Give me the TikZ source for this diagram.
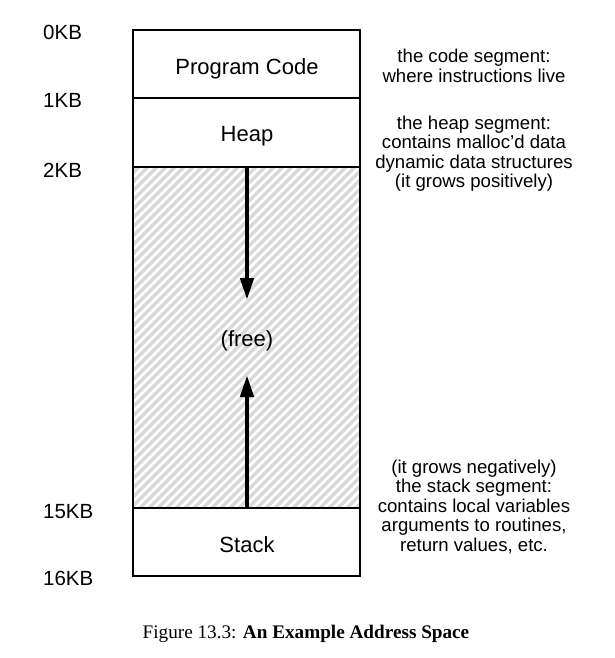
\documentclass[tikz,border=0pt]{standalone}
\usepackage{fontspec}
\setmainfont{Liberation Sans}
\newfontfamily\capfont{Liberation Serif}
\usetikzlibrary{arrows.meta}
\begin{document}
\begin{tikzpicture}[x=1pt,y=-1pt,
  lbl/.style={font=\fontsize{20.5}{22}\selectfont, inner sep=0pt},
  segtext/.style={font=\fontsize{22}{23}\selectfont, inner sep=0pt},
  note/.style={font=\fontsize{18.6}{19.5}\selectfont, inner sep=0pt, align=center},
  hatch/.style={draw=black!15, line width=3.4pt},
  border/.style={draw=black, line width=2pt},
  arr/.style={line width=4.5pt, -{Triangle[length=22pt,width=13pt]}}
]
\useasboundingbox (0,0) rectangle (614,658);
\fill[white] (0,0) rectangle (614,658);

% hatching of the free region
\begin{scope}
  \clip (133,167) rectangle (360,508);
  \foreach \i in {0,...,75} {\draw[hatch] (-240+\i*9,510) -- ++(420,-420);}
\end{scope}

% segments
\draw[border] (133,30) rectangle (360,576);
\draw[border] (133,98) -- (360,98);
\draw[border] (133,167) -- (360,167);
\draw[border] (133,508) -- (360,508);

% address labels
\node[lbl, anchor=base west] (k0) at (43,40) {0KB};
\node[lbl, anchor=base west] (k1) at (43,108) {1KB};
\node[lbl, anchor=base west] (k2) at (43,177) {2KB};
\node[lbl, anchor=base west] (k15) at (43,518) {15KB};
\node[lbl, anchor=base west] (k16) at (43,585) {16KB};

% segment texts
\node[segtext, anchor=base] (code) at (247,75) {Program Code};
\node[segtext, anchor=base] (heap) at (247,142) {Heap};
\node[segtext, anchor=base] (free) at (247,346) {(free)};
\node[segtext, anchor=base] (stack) at (247,552) {Stack};

% arrows
\coordinate (dtop) at (247,168);
\coordinate (dtip) at (247,300);
\coordinate (ubot) at (247,507);
\coordinate (utip) at (247,375);
\draw[arr] (dtop) -- (dtip);
\draw[arr] (ubot) -- (utip);

% notes (anchored at the baseline of their last line)
\node[note, anchor=base] (ncode) at (474,82.5) {the code segment:\\where instructions live};
\node[note, anchor=base] (nheap) at (474,187.5) {the heap segment:\\contains malloc’d data\\dynamic data structures\\(it grows positively)};
\node[note, anchor=base] (nstack) at (474,551) {(it grows negatively)\\the stack segment:\\contains local variables\\arguments to routines,\\return values, etc.};

% caption
\node[anchor=base, inner sep=0pt, font={\capfont\fontsize{19.2}{21}\selectfont}] (cap) at (306,638) {Figure 13.3: \textbf{An Example Address Space}};
\end{tikzpicture}
\end{document}
